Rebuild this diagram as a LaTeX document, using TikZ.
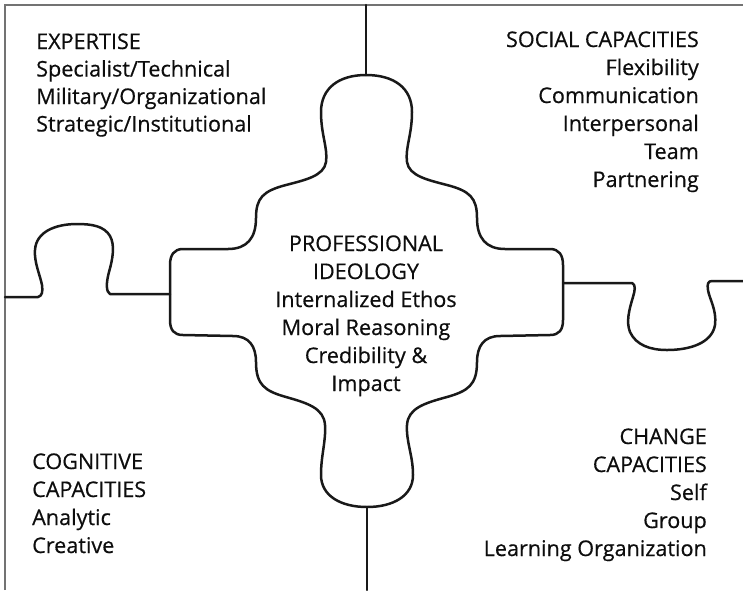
\documentclass[tikz,border=0pt]{standalone}
\usepackage{fontspec}
\setmainfont{Open Sans}[FakeBold=0.5]
\begin{document}
\begin{tikzpicture}[x=1pt,y=-1pt,
  frame/.style={draw=black!55,line width=1.3pt},
  piece/.style={draw=black!90,line width=2.5pt,line join=round,line cap=round},
  label/.style={inner sep=0pt,font=\fontsize{21.6}{28}\selectfont,text=black!95}]
\useasboundingbox (0,0) rectangle (743,590);

% outer frame (top and left edges only)
\draw[frame] (5,590) -- (5,5) -- (743,5);

% connection points of the central piece
\coordinate (ctop) at (366,75);
\coordinate (cbot) at (367,507);
\coordinate (cleft) at (170,294);
\coordinate (cright) at (563,283);
\coordinate (ftop) at (366,5);
\coordinate (fbot) at (367,590);
\coordinate (lend) at (5,297);
\coordinate (rend) at (743,281);

% central cross-shaped piece
\draw[piece] (366,75)
  .. controls (394,75) and (412,88) .. (412,112)
  .. controls (412,135) and (405,148) .. (407,162)
  .. controls (409,176) and (428,180) .. (447,185)
  .. controls (470,191) and (477,198) .. (477,218)
  .. controls (477,238) and (486,249) .. (505,249)
  -- (550,249)
  .. controls (559,249) and (563,255) .. (563,265)
  -- (563,320)
  .. controls (563,330) and (559,335) .. (550,335)
  -- (500,336)
  .. controls (484,336) and (477,346) .. (477,362)
  .. controls (477,385) and (468,391) .. (447,397)
  .. controls (425,403) and (408,408) .. (407,425)
  .. controls (406,442) and (413,455) .. (413,475)
  .. controls (413,496) and (393,507) .. (367,507)
  .. controls (341,507) and (321,496) .. (321,475)
  .. controls (321,455) and (326,442) .. (325,425)
  .. controls (324,408) and (307,403) .. (286,397)
  .. controls (265,391) and (256,385) .. (256,362)
  .. controls (256,346) and (249,336) .. (233,336)
  -- (183,335)
  .. controls (174,335) and (170,330) .. (170,320)
  -- (170,265)
  .. controls (170,255) and (174,249) .. (183,249)
  -- (228,249)
  .. controls (247,249) and (256,238) .. (256,218)
  .. controls (256,198) and (263,191) .. (286,185)
  .. controls (305,180) and (324,176) .. (326,162)
  .. controls (328,148) and (321,135) .. (321,112)
  .. controls (321,88) and (339,75) .. (366,75) -- cycle;

% vertical joins
\draw[piece] (ftop) -- (ctop);
\draw[piece] (cbot) -- (fbot);

% left edge with outward knob
\draw[piece] (cleft) -- (110,294)
  .. controls (106,292) and (106,283) .. (109,272)
  .. controls (113,258) and (115,245) .. (110,236)
  .. controls (104,226) and (92,224) .. (77,224)
  .. controls (55,224) and (36,232) .. (35,250)
  .. controls (34,262) and (40,275) .. (42,285)
  .. controls (43,292) and (42,296) .. (38,297)
  -- (lend);

% right edge with downward knob
\draw[piece] (cright) -- (632,283)
  .. controls (636,285) and (635,290) .. (633,297)
  .. controls (629,310) and (626,322) .. (630,332)
  .. controls (636,345) and (650,350) .. (667,350)
  .. controls (690,350) and (712,343) .. (715,325)
  .. controls (717,310) and (709,298) .. (708,290)
  .. controls (707,284) and (708,281) .. (712,281)
  -- (rend);

% quadrant texts
\foreach \t [count=\i] in {EXPERTISE,Specialist/Technical,Military/Organizational,Strategic/Institutional}
  \node[label,anchor=base west] (exp\i) at (36,{49+27.5*(\i-1)}) {\t};

\foreach \t [count=\i] in {SOCIAL CAPACITIES,Flexibility,Communication,Interpersonal,Team,Partnering}
  \node[label,anchor=base east] (soc\i) at (699,{47+28*(\i-1)}) {\t};

\foreach \t [count=\i] in {PROFESSIONAL,IDEOLOGY,Internalized Ethos,Moral Reasoning,Credibility \&,Impact}
  \node[label,anchor=base] (pro\i) at (366,{251+28*(\i-1)}) {\t};

\foreach \t [count=\i] in {COGNITIVE,CAPACITIES,Analytic,Creative}
  \node[label,anchor=base west] (cog\i) at (32,{469+28*(\i-1)}) {\t};

\foreach \t [count=\i] in {CHANGE,CAPACITIES,Self,Group,Learning Organization}
  \node[label,anchor=base east] (chg\i) at (707,{444+28*(\i-1)}) {\t};
\end{tikzpicture}
\end{document}
